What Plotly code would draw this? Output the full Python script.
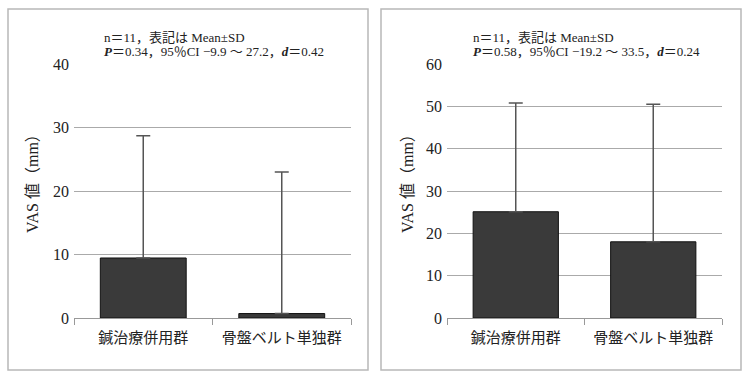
import plotly.graph_objects as go

categories = ["鍼治療併用群", "骨盤ベルト単独群"]
left_means = [9.45, 0.7]
left_sd = [19.25, 22.3]
right_means = [25.1, 18.0]
right_sd = [25.7, 32.5]
left_ticks = [0, 10, 20, 30, 40]
right_ticks = [0, 10, 20, 30, 40, 50, 60]
y_title = "VAS 値（mm）"
left_note = ["n＝11，表記は Mean±SD",
             "<b><i>P</i></b>＝0.34，95％CI −9.9 ～ 27.2，<b><i>d</i></b>＝0.42"]
right_note = ["n＝11，表記は Mean±SD",
              "<b><i>P</i></b>＝0.58，95％CI −19.2 ～ 33.5，<b><i>d</i></b>＝0.24"]

W, H = 748, 379
FONT = "Liberation Serif, DejaVu Serif, Noto Sans CJK JP, serif"

def px(x):
    return x / W

def py(y):
    return 1 - y / H

fig = go.Figure()
for i, (m, sd) in enumerate([(left_means, left_sd), (right_means, right_sd)]):
    fig.add_trace(go.Bar(
        x=categories, y=m,
        xaxis="x" if i == 0 else "x2", yaxis="y" if i == 0 else "y2",
        marker=dict(color="#3a3a3a", line=dict(color="#111111", width=1)),
        width=0.62,
        error_y=dict(type="data", array=sd, symmetric=False, arrayminus=[0, 0],
                     color="#555555", thickness=1.5, width=7),
        showlegend=False,
        hoverinfo="skip",
    ))

ydom = [py(318), py(64)]
axis_common = dict(showgrid=False, showline=True, linecolor="#999999", linewidth=1,
                   ticks="outside", tickson="boundaries", ticklen=6, tickcolor="#999999",
                   automargin=False, ticklabelstandoff=6,
                   tickfont=dict(family=FONT, size=15, color="#222222"))
yaxis_common = dict(showgrid=True, gridcolor="#aaaaaa", gridwidth=1, zeroline=False,
                    showline=False, ticks="", automargin=False, ticklabelstandoff=4,
                    tickfont=dict(family=FONT, size=16, color="#222222"))

fig.update_layout(
    width=W, height=H,
    autosize=False,
    margin=dict(l=0, r=0, t=0, b=0, pad=0, autoexpand=False),
    paper_bgcolor="white", plot_bgcolor="white",
    xaxis=dict(domain=[px(74), px(351)], anchor="y", **axis_common),
    xaxis2=dict(domain=[px(447), px(722)], anchor="y2", **axis_common),
    yaxis=dict(domain=ydom, anchor="x", range=[0, 40], tickvals=left_ticks, **yaxis_common),
    yaxis2=dict(domain=ydom, anchor="x2", range=[0, 60], tickvals=right_ticks, **yaxis_common),
)

shapes = []
for x0, x1 in [(8, 368), (381, 741)]:
    shapes.append(dict(type="rect", xref="paper", yref="paper",
                       x0=px(x0), x1=px(x1), y0=py(370), y1=py(9),
                       line=dict(color="#b8b8b8", width=1.5)))
fig.update_layout(shapes=shapes)

for xt in (32, 407):
    fig.add_annotation(xref="paper", yref="paper", x=px(xt), y=py(179),
                       text=y_title, textangle=-90, showarrow=False,
                       xanchor="center", yanchor="middle",
                       font=dict(family=FONT, size=16, color="#222222"))

for xs, note in [(102, left_note), (471, right_note)]:
    fig.add_annotation(xref="paper", yref="paper", x=px(xs), y=py(38),
                       text=note[0], showarrow=False, xanchor="left", yanchor="middle",
                       font=dict(family=FONT, size=13, color="#222222"))
    fig.add_annotation(xref="paper", yref="paper", x=px(xs), y=py(52),
                       text=note[1], showarrow=False, xanchor="left", yanchor="middle",
                       font=dict(family=FONT, size=13, color="#222222"))

fig.write_html("out.html",
               config={"displayModeBar": False, "staticPlot": True},
               post_script="document.body.style.margin='0px';document.body.style.overflow='hidden';")
